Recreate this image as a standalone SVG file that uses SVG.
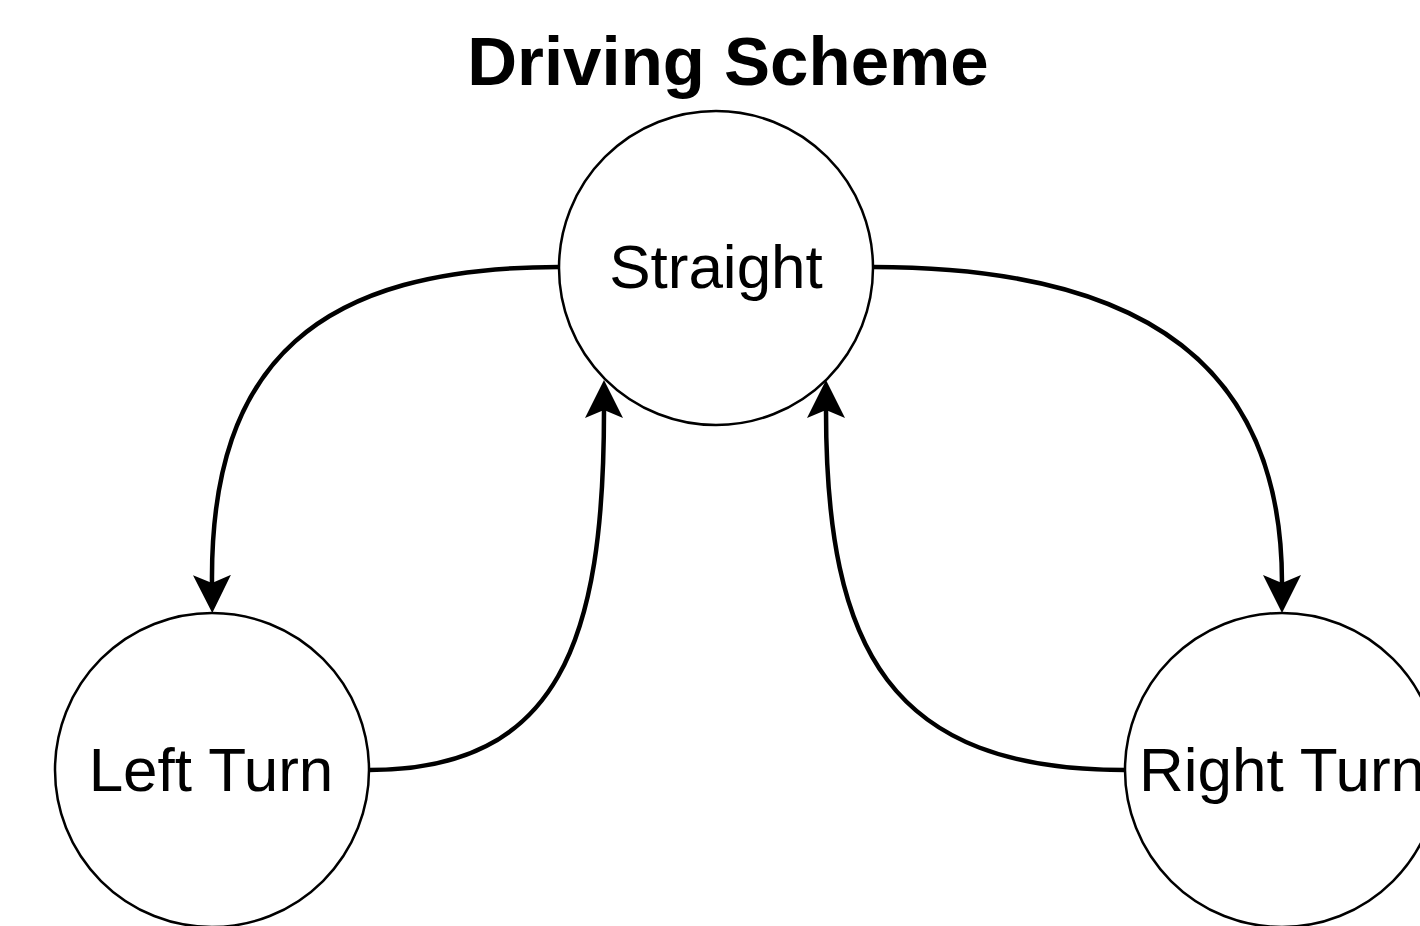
<svg xmlns="http://www.w3.org/2000/svg" width="1420" height="926" viewBox="0 0 1420 926">
  <style>
    .state { fill: #ffffff; stroke: #000000; stroke-width: 2.5; }
    .label { font-family: "Liberation Sans", Arial, sans-serif; font-size: 62px; fill: #000000; text-anchor: middle; }
    .title { font-family: "Liberation Sans", Arial, sans-serif; font-size: 69px; font-weight: bold; fill: #000000; text-anchor: middle; }
    .edge { fill: none; stroke: #000000; stroke-width: 4.5; marker-end: url(#arrow); }
  </style>
  <defs>
    <marker id="arrow" viewBox="0 -19 38 38" refX="8" refY="0" markerWidth="38" markerHeight="38" markerUnits="userSpaceOnUse" orient="auto">
      <path d="M0,-19 L38,0 L0,19 L8,0 Z" fill="#000000"/>
    </marker>
  </defs>
  <rect x="0" y="0" width="1420" height="926" fill="#ffffff"/>

  <text class="title" x="728" y="85">Driving Scheme</text>

  <g id="connectors">
    <!-- Straight -> Left Turn -->
    <path class="edge" d="M559 267 C 320 267, 210 360, 212 583"/>
    <!-- Left Turn -> Straight -->
    <path class="edge" d="M369 770 C 560 770, 604 640, 604 410"/>
    <!-- Straight -> Right Turn -->
    <path class="edge" d="M873 267 C 1150 267, 1282 370, 1282 583"/>
    <!-- Right Turn -> Straight -->
    <path class="edge" d="M1125 770 C 890 770, 826 650, 826 410"/>
  </g>

  <g id="node-straight">
    <circle class="state" cx="716" cy="268" r="157"/>
    <text class="label" x="716" y="288">Straight</text>
  </g>
  <g id="node-left-turn">
    <circle class="state" cx="212" cy="770" r="157"/>
    <text class="label" x="211" y="791">Left Turn</text>
  </g>
  <g id="node-right-turn">
    <circle class="state" cx="1282" cy="770" r="157"/>
    <text class="label" x="1282" y="791">Right Turn</text>
  </g>
</svg>
